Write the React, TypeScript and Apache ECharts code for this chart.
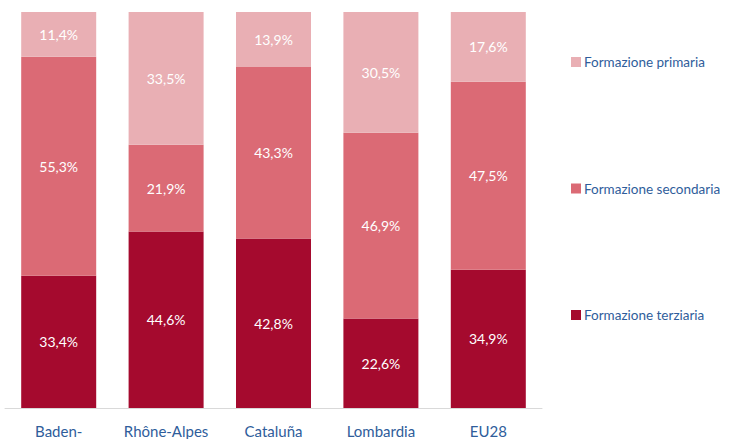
import React, { useEffect, useRef } from "react";
import * as echarts from "echarts";

const categories = ["Baden-", "Rhône-Alpes", "Cataluña", "Lombardia", "EU28"];
const terziaria = [33.4, 44.6, 42.8, 22.6, 34.9];
const secondaria = [55.3, 21.9, 43.3, 46.9, 47.5];
const primaria = [11.4, 33.5, 13.9, 30.5, 17.6];
const seriesNames = ["Formazione terziaria", "Formazione secondaria", "Formazione primaria"];
const colors = ["#A50A2E", "#DB6A75", "#E9AFB4"];

const FONT = "Lato";

export default function App() {
  const ref = useRef<HTMLDivElement>(null);
  useEffect(() => {
    document.body.style.margin = "0";
    const chart = echarts.init(ref.current!, null, { renderer: "svg" });
    const fmt = (p: any) => p.value.toFixed(1).replace(".", ",") + "%";
    const mk = (name: string, data: number[], color: string) => ({
      name,
      type: "bar",
      stack: "total",
      data,
      barWidth: 75,
      itemStyle: { color },
      label: {
        show: true,
        position: "inside",
        formatter: fmt,
        color: "#ffffff",
        fontFamily: FONT,
        fontSize: 14,
      },
    });
    chart.setOption({
      animation: false,
      grid: { left: 5, right: 188, top: 12, bottom: 31, containLabel: false },
      legend: {
        orient: "vertical",
        left: 566,
        top: 50,
        itemGap: 112.5,
        itemWidth: 10,
        itemHeight: 10,
        itemStyle: { borderWidth: 0 },
        icon: "rect",
        data: ["Formazione primaria", "Formazione secondaria", "Formazione terziaria"],
        textStyle: { color: "#2F5D9B", fontFamily: FONT, fontSize: 13.5, padding: [0, 0, 0, -2] },
      },
      xAxis: {
        type: "category",
        data: categories,
        axisLine: { lineStyle: { color: "#D9D9D9" } },
        axisTick: { show: false },
        axisLabel: { color: "#2F5D9B", fontFamily: FONT, fontSize: 15, margin: 15, interval: 0 },
      },
      yAxis: { type: "value", min: 0, max: 100, show: false, splitLine: { show: false } },
      series: [
        mk(seriesNames[0], terziaria, colors[0]),
        mk(seriesNames[1], secondaria, colors[1]),
        mk(seriesNames[2], primaria, colors[2]),
      ],
    });
    return () => chart.dispose();
  }, []);
  return <div ref={ref} style={{ width: 730, height: 439 }} />;
}
